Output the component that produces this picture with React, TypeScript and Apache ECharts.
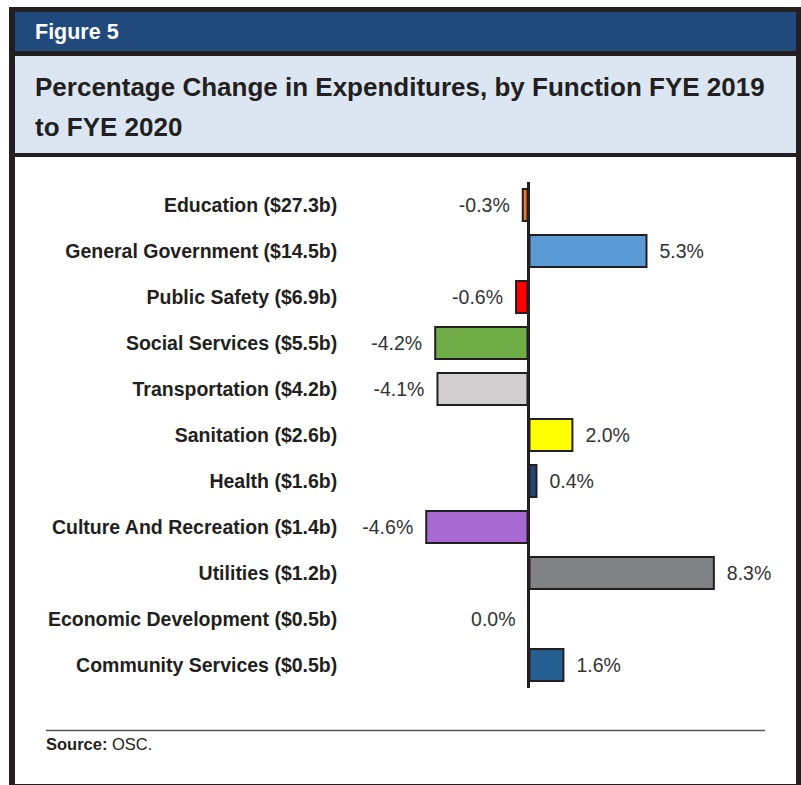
import React, { useEffect, useRef } from "react";
import * as echarts from "echarts";

const categories = [
  "Education ($27.3b)",
  "General Government ($14.5b)",
  "Public Safety ($6.9b)",
  "Social Services ($5.5b)",
  "Transportation ($4.2b)",
  "Sanitation ($2.6b)",
  "Health ($1.6b)",
  "Culture And Recreation ($1.4b)",
  "Utilities ($1.2b)",
  "Economic Development ($0.5b)",
  "Community Services ($0.5b)",
];
const values = [-0.3, 5.3, -0.6, -4.2, -4.1, 2.0, 0.4, -4.6, 8.3, 0.0, 1.6];
const barColors = [
  "#ED7D31",
  "#5B9BD5",
  "#FF0000",
  "#70AD47",
  "#D0CECE",
  "#FFFF00",
  "#264478",
  "#A66AD2",
  "#808285",
  "#FFFFFF",
  "#255E91",
];

const FONT = "'Liberation Sans', Arial, Helvetica, sans-serif";
const DARK = "#231F20";

export default function App() {
  const ref = useRef<HTMLDivElement>(null);
  useEffect(() => {
    if (!ref.current) return;
    const chart = echarts.init(ref.current, undefined, { renderer: "svg" });
    const data = values.map((v, i) => ({
      value: v,
      itemStyle: { color: barColors[i] },
      label: { position: v > 0 ? "right" : "left" },
    }));
    chart.setOption({
      animation: false,
      backgroundColor: "#FFFFFF",
      graphic: [
        { type: "rect", z: -10, shape: { x: 9, y: 7, width: 792, height: 778 }, style: { fill: DARK } },
        { type: "rect", z: -9, shape: { x: 15, y: 12, width: 781, height: 39 }, style: { fill: "#204A7C" } },
        { type: "rect", z: -9, shape: { x: 15, y: 56, width: 781, height: 97 }, style: { fill: "#DCE6F2" } },
        { type: "rect", z: -9, shape: { x: 15, y: 157, width: 781, height: 627 }, style: { fill: "#FFFFFF" } },
        {
          type: "text",
          left: 35,
          top: 21,
          style: { text: "Figure 5", fill: "#FFFFFF", font: `bold 21.5px ${FONT}` },
        },
        {
          type: "text",
          left: 35,
          top: 67,
          style: {
            text: "Percentage Change in Expenditures, by Function FYE 2019\nto FYE 2020",
            fill: DARK,
            font: `bold 26px ${FONT}`,
            lineHeight: 40,
          },
        },
        {
          type: "line",
          shape: { x1: 46, y1: 730.5, x2: 765, y2: 730.5 },
          style: { stroke: "#555555", lineWidth: 1.5 },
        },
        {
          type: "text",
          left: 46,
          top: 735,
          style: {
            text: "{b|Source:} OSC.",
            fill: DARK,
            font: `16.5px ${FONT}`,
            rich: { b: { fontWeight: "bold", fontFamily: FONT, fontSize: 16.5, fill: DARK } },
          },
        },
      ],
      grid: {
        left: 416.25,
        width: 336.75,
        top: 182,
        height: 506,
        containLabel: false,
        outerBoundsMode: "none",
      },
      xAxis: {
        type: "value",
        min: -5,
        max: 10,
        show: false,
      },
      yAxis: {
        type: "category",
        data: categories,
        inverse: true,
        axisLine: { show: false },
        axisTick: { show: false },
        axisLabel: {
          margin: 79,
          color: DARK,
          fontFamily: FONT,
          fontWeight: "bold",
          fontSize: 19.5,
        },
      },
      series: [
        {
          type: "bar",
          data,
          barWidth: 34,
          itemStyle: { borderColor: DARK, borderWidth: 2 },
          label: {
            show: true,
            distance: 12,
            color: "#333333",
            fontFamily: FONT,
            fontSize: 19.5,
            formatter: (p: any) => p.value.toFixed(1) + "%",
          },
          markLine: {
            silent: true,
            symbol: "none",
            label: { show: false },
            lineStyle: { color: DARK, width: 3, type: "solid" },
            data: [{ xAxis: 0 }],
          },
        },
      ],
    });
    return () => chart.dispose();
  }, []);
  return (
    <div
      ref={ref}
      style={{ position: "absolute", left: 0, top: 0, width: 801, height: 785 }}
    />
  );
}
